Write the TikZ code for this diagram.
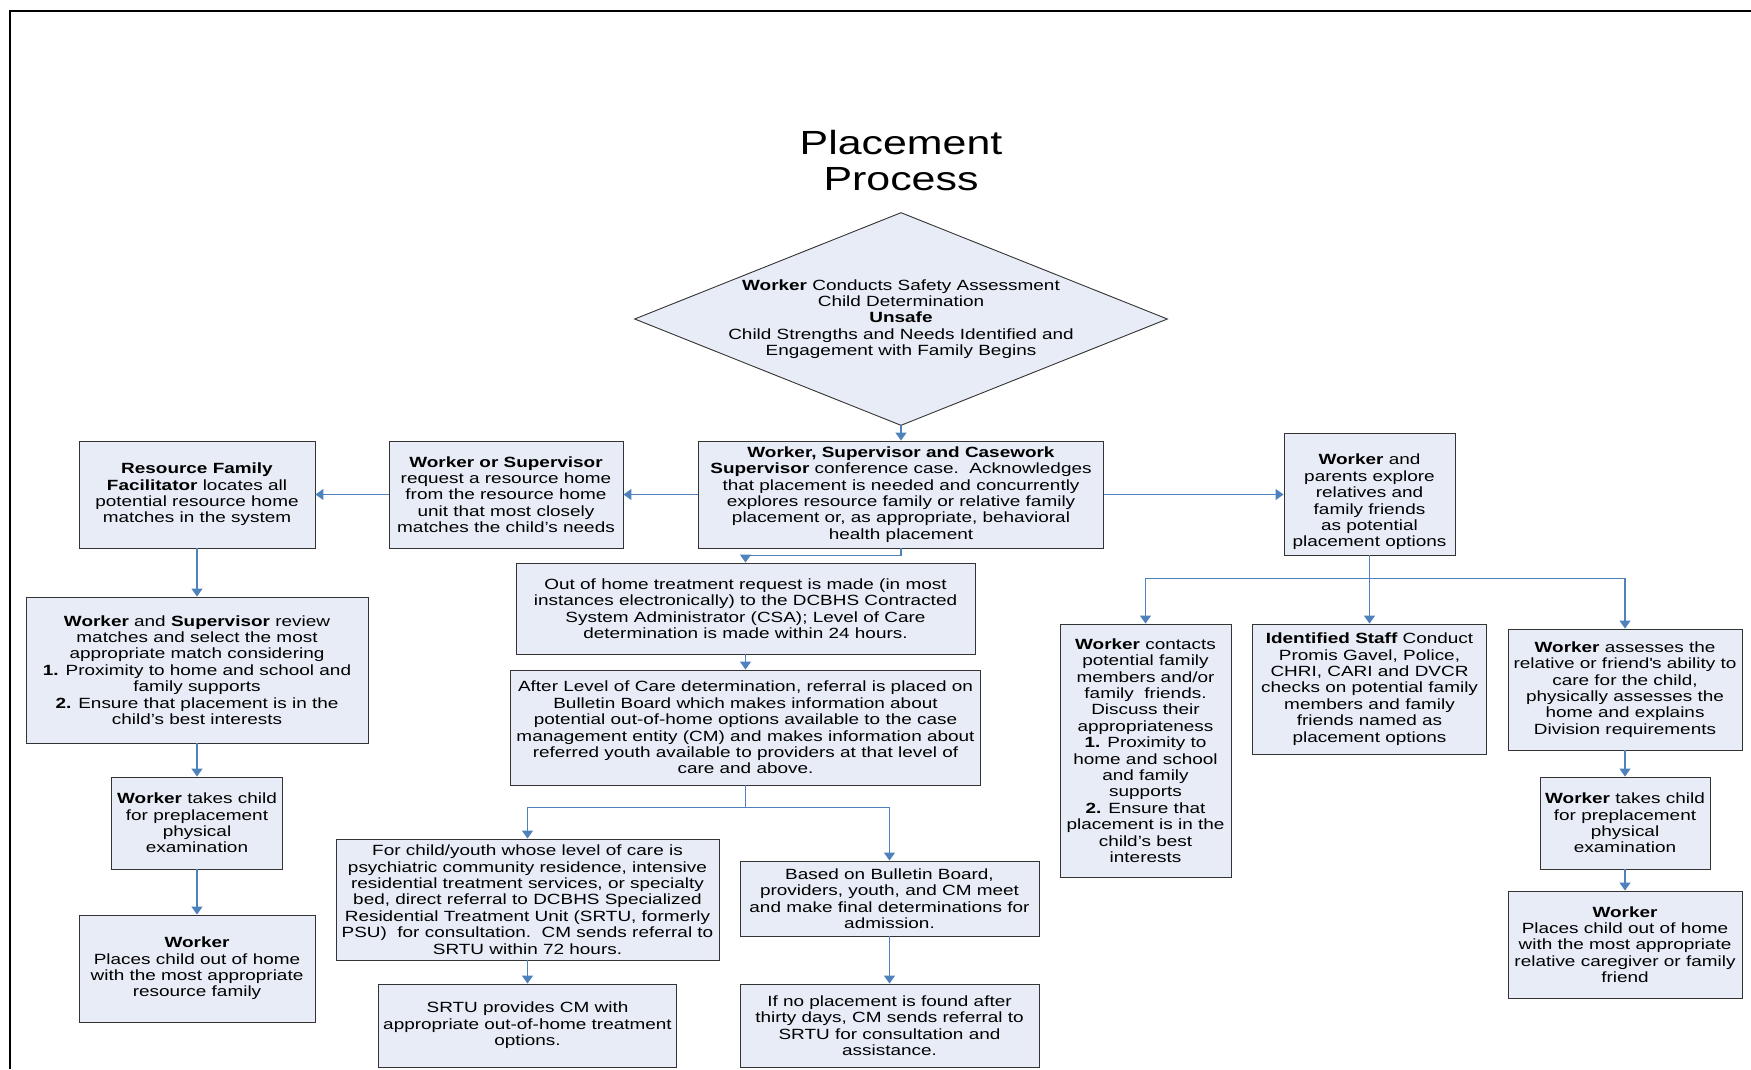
\documentclass[tikz,border=0pt]{standalone}
\usepackage{fontspec}
\setmainfont[FakeStretch=1.28]{Liberation Sans}
\usepackage{xcolor}
\usepackage{tikz}
\usetikzlibrary{shapes.geometric,arrows.meta}

\definecolor{boxblue}{RGB}{231,236,246}
\definecolor{linkblue}{RGB}{79,129,189}

\begin{document}
\begin{tikzpicture}[x=1pt, y=-1pt,
    box/.style={draw=black!80, line width=0.9pt, fill=boxblue, align=center, inner sep=0pt, font=\fontsize{14.8}{16.4}\selectfont},
    decision/.style={box, shape=diamond, aspect=2.5, inner xsep=-4pt, inner ysep=-2pt},
    flow/.style={draw=linkblue, line width=1.2pt, -{Triangle[width=11pt,length=8pt]}}]
    \useasboundingbox (0,0) rectangle (1751,1069);
    \draw[line width=1.2pt] (10,1069) -- (10,11) -- (1751,11);

    % Title
    \node[align=center, font=\fontsize{33.5}{36}\selectfont] (title) at (901,161) {Placement\\Process};

    % Boxes
    \node[decision, minimum width=533, minimum height=213] (dia) at (901,319) {\textbf{Worker} Conducts Safety Assessment\\Child Determination\\\textbf{Unsafe}\\Child Strengths and Needs Identified and\\Engagement with Family Begins};
    \node[box, minimum width=405, minimum height=107] (conf) at (901,494.5) {\textbf{Worker, Supervisor and Casework}\\\textbf{Supervisor} conference case.\ \ Acknowledges\\that placement is needed and concurrently\\explores resource family or relative family\\placement or, as appropriate, behavioral\\health placement};
    \node[box, minimum width=234, minimum height=107] (wos) at (506,494.5) {\textbf{Worker or Supervisor}\\request a resource home\\from the resource home\\unit that most closely\\matches the child’s needs};
    \node[box, minimum width=236, minimum height=107] (rff) at (197,494.5) {\textbf{Resource Family}\\\textbf{Facilitator} locates all\\potential resource home\\matches in the system};
    \node[box, minimum width=171, minimum height=122] (wpe) at (1369.5,494) {\rule{0pt}{27pt}\textbf{Worker} and\\parents explore\\relatives and\\family friends\\as potential\\placement options};

    \node[box, minimum width=342, minimum height=146] (wsr) at (197,670) {\textbf{Worker} and \textbf{Supervisor} review\\matches and select the most\\appropriate match considering\\\textbf{1.} Proximity to home and school and\\family supports\\\textbf{2.} Ensure that placement is in the\\child’s best interests};
    \node[box, minimum width=171, minimum height=92] (ltc) at (197,823) {\textbf{Worker} takes child\\for preplacement\\physical\\examination};
    \node[box, minimum width=236, minimum height=107] (lwp) at (197,968.5) {\textbf{Worker}\\Places child out of home\\with the most appropriate\\resource family};

    \node[box, minimum width=459, minimum height=91] (ooh) at (745.5,608.5) {Out of home treatment request is made (in most\\instances electronically) to the DCBHS Contracted\\System Administrator (CSA); Level of Care\\determination is made within 24 hours.};
    \node[box, minimum width=470, minimum height=115] (alc) at (745.5,727.5) {After Level of Care determination, referral is placed on\\Bulletin Board which makes information about\\potential out-of-home options available to the case\\management entity (CM) and makes information about\\referred youth available to providers at that level of\\care and above.};
    \node[box, minimum width=383, minimum height=121] (fcy) at (527.5,899.5) {For child/youth whose level of care is\\psychiatric community residence, intensive\\residential treatment services, or specialty\\bed, direct referral to DCBHS Specialized\\Residential Treatment Unit (SRTU, formerly\\PSU)\ \ for consultation.\ \ CM sends referral to\\SRTU within 72 hours.};
    \node[box, minimum width=299, minimum height=75] (bbb) at (889.5,898.5) {Based on Bulletin Board,\\providers, youth, and CM meet\\and make final determinations for\\admission.};
    \node[box, minimum width=298, minimum height=83] (srtu) at (527.5,1025.5) {SRTU provides CM with\\appropriate out-of-home treatment\\options.};
    \node[box, minimum width=299, minimum height=83] (inp) at (889.5,1025.5) {If no placement is found after\\thirty days, CM sends referral to\\SRTU for consultation and\\assistance.};

    \node[box, minimum width=171, minimum height=253] (wc) at (1145.5,750.5) {\textbf{Worker} contacts\\potential family\\members and/or\\family\ \ friends.\\Discuss their\\appropriateness\\\textbf{1.} Proximity to\\home and school\\and family\\supports\\\textbf{2.} Ensure that\\placement is in the\\child’s best\\interests};
    \node[box, minimum width=234, minimum height=130] (ids) at (1369.5,689) {\textbf{Identified Staff} Conduct\\Promis Gavel, Police,\\CHRI, CARI and DVCR\\checks on potential family\\members and family\\friends named as\\placement options};
    \node[box, minimum width=234, minimum height=121] (wa) at (1625,689.5) {\textbf{Worker} assesses the\\relative or friend\textquotesingle s ability to\\care for the child,\\physically assesses the\\home and explains\\Division requirements};
    \node[box, minimum width=170, minimum height=92] (rtc) at (1625,823) {\textbf{Worker} takes child\\for preplacement\\physical\\examination};
    \node[box, minimum width=234, minimum height=107] (rwp) at (1625,944.5) {\textbf{Worker}\\Places child out of home\\with the most appropriate\\relative caregiver or family\\friend};

    % Connections
    \draw[flow] (dia.south) -- (conf.north);
    \draw[flow] (conf.west) -- (wos.east);
    \draw[flow] (wos.west) -- (rff.east);
    \draw[flow] (conf.east) -- (conf.east -| wpe.west);
    \draw[flow] (conf.south) -- ++(0,7) -| (ooh.north);
    \draw[flow] (ooh) -- (alc);
    \draw[flow] (alc.south) -- ++(0,22) -| (fcy.north);
    \draw[flow] (alc.south) -- ++(0,22) -| (bbb.north);
    \draw[flow] (fcy) -- (srtu);
    \draw[flow] (bbb) -- (inp);
    \draw[flow] (rff) -- (wsr);
    \draw[flow] (wsr) -- (ltc);
    \draw[flow] (ltc) -- (lwp);
    \draw[flow] (wpe.south) -- ++(0,23) -| (wc.north);
    \draw[flow] (wpe) -- (ids);
    \draw[flow] (wpe.south) -- ++(0,23) -| (wa.north);
    \draw[flow] (wa) -- (rtc);
    \draw[flow] (rtc) -- (rwp);
\end{tikzpicture}
\end{document}
